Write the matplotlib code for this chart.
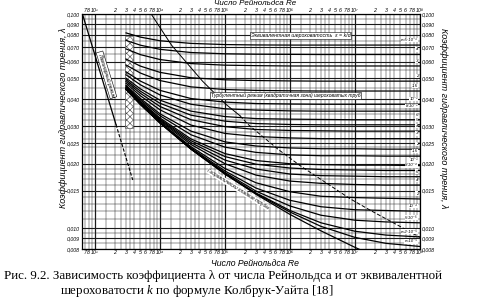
import matplotlib
matplotlib.use('Agg')
import matplotlib.pyplot as plt
from matplotlib.ticker import NullLocator

plt.rcParams['font.family'] = ['Liberation Sans', 'DejaVu Sans']
plt.rcParams['hatch.linewidth'] = 0.4
plt.rcParams['mathtext.fontset'] = 'custom'
plt.rcParams['mathtext.rm'] = 'Liberation Serif'
plt.rcParams['mathtext.it'] = 'Liberation Serif:italic'

re_pts = [3e3, 5e3, 1e4, 3e4, 1e5, 3e5, 1e6, 3e6, 1e7, 3e7, 1e8]

# relative roughness eps = k/d of each curve
roughness = [0.05, 0.04, 0.03, 0.02, 0.015, 0.01, 0.008, 0.006, 0.005, 0.004,
             0.003, 0.002, 0.0015, 0.001, 0.0008, 0.0006, 0.0004, 0.0002,
             0.0001, 0.00005, 0.00002, 0.00001, 0.0]

# friction factor lambda for each curve at re_pts
lam_table = [
    [0.0816, 0.0780, 0.0750, 0.0729, 0.0720, 0.0717, 0.0716, 0.0716, 0.0716, 0.0716, 0.0716],
    [0.0753, 0.0715, 0.0684, 0.0661, 0.0652, 0.0649, 0.0648, 0.0647, 0.0647, 0.0647, 0.0647],
    [0.0687, 0.0646, 0.0613, 0.0587, 0.0577, 0.0574, 0.0572, 0.0572, 0.0572, 0.0572, 0.0572],
    [0.0616, 0.0571, 0.0534, 0.0504, 0.0493, 0.0489, 0.0487, 0.0486, 0.0486, 0.0486, 0.0486],
    [0.0578, 0.0530, 0.0489, 0.0457, 0.0444, 0.0440, 0.0438, 0.0437, 0.0437, 0.0437, 0.0437],
    [0.0537, 0.0486, 0.0440, 0.0403, 0.0388, 0.0382, 0.0380, 0.0379, 0.0379, 0.0379, 0.0379],
    [0.0520, 0.0467, 0.0419, 0.0379, 0.0361, 0.0356, 0.0353, 0.0352, 0.0352, 0.0352, 0.0352],
    [0.0502, 0.0447, 0.0396, 0.0352, 0.0332, 0.0325, 0.0323, 0.0322, 0.0321, 0.0321, 0.0321],
    [0.0493, 0.0436, 0.0383, 0.0337, 0.0316, 0.0308, 0.0305, 0.0304, 0.0304, 0.0304, 0.0304],
    [0.0484, 0.0426, 0.0370, 0.0321, 0.0298, 0.0289, 0.0286, 0.0285, 0.0284, 0.0284, 0.0284],
    [0.0475, 0.0415, 0.0357, 0.0303, 0.0277, 0.0268, 0.0264, 0.0262, 0.0262, 0.0262, 0.0262],
    [0.0465, 0.0403, 0.0342, 0.0284, 0.0253, 0.0242, 0.0237, 0.0235, 0.0235, 0.0234, 0.0234],
    [0.0460, 0.0397, 0.0335, 0.0273, 0.0239, 0.0226, 0.0220, 0.0218, 0.0218, 0.0217, 0.0217],
    [0.0455, 0.0391, 0.0327, 0.0261, 0.0223, 0.0207, 0.0200, 0.0198, 0.0197, 0.0197, 0.0196],
    [0.0453, 0.0389, 0.0323, 0.0256, 0.0216, 0.0199, 0.0191, 0.0188, 0.0187, 0.0186, 0.0186],
    [0.0451, 0.0386, 0.0320, 0.0251, 0.0208, 0.0189, 0.0179, 0.0176, 0.0175, 0.0174, 0.0174],
    [0.0449, 0.0384, 0.0317, 0.0246, 0.0200, 0.0177, 0.0166, 0.0162, 0.0160, 0.0159, 0.0159],
    [0.0447, 0.0381, 0.0313, 0.0240, 0.0190, 0.0163, 0.0148, 0.0141, 0.0139, 0.0138, 0.0137],
    [0.0446, 0.0380, 0.0311, 0.0237, 0.0185, 0.0154, 0.0135, 0.0126, 0.0122, 0.0121, 0.0120],
    [0.0445, 0.0379, 0.0311, 0.0235, 0.0182, 0.0149, 0.0127, 0.0115, 0.0109, 0.0107, 0.0106],
    [0.0445, 0.0379, 0.0310, 0.0234, 0.0180, 0.0146, 0.0121, 0.0106, 0.00968, 0.00929, 0.00911],
    [0.0445, 0.0379, 0.0310, 0.0234, 0.0179, 0.0145, 0.0119, 0.0102, 0.00906, 0.00850, 0.00822],
    [0.0445, 0.0378, 0.0310, 0.0234, 0.0179, 0.0144, 0.0116, 0.00972, 0.00814, 0.00701, 0.00603],
]

curve_labels = ['ε=5·10⁻²', '4', '3', '2', '1,5', '10⁻²', '8·10⁻³', '6', '5', '4',
                '3', '2', '1,5', '10⁻³', '8·10⁻⁴', '6', '4', '2', '10⁻⁴', '5·10⁻⁵',
                'ε=2·10⁻⁵', 'ε=10⁻⁵', '']

# laminar flow line and its dashed continuation
laminar_re = [640, 2100]
laminar_lam = [0.100, 0.0305]
laminar_dash_re = [2100, 3800]
laminar_dash_lam = [0.0305, 0.0168]

# boundary of the quadratic (fully rough) zone
border_re = [7.3e3, 1.5e4, 4.5e4, 1.03e5, 1.7e5]
border_lam = [0.100, 0.0716, 0.0486, 0.0379, 0.0335]
border_dash_re = [1.7e5, 2.3e5, 6.5e5, 1.43e6, 8.5e6, 1.83e7, 3.9e7, 1.05e8]
border_dash_lam = [0.0335, 0.0304, 0.0234, 0.0196, 0.0137, 0.0120, 0.0106, 0.0090]

# transition zone (hatched strip)
trans_re = [2900, 3800]
trans_lam = [0.0295, 0.079]

lam_ticks = [0.100, 0.090, 0.080, 0.070, 0.060, 0.050, 0.040, 0.030, 0.025,
             0.020, 0.015, 0.010, 0.009, 0.008]
lam_tick_labels = ['0,100', '0,090', '0,080', '0,070', '0,060', '0,050', '0,040',
                   '0,030', '0,025', '0,020', '0,015', '0,010', '0,009', '0,008']
lam_grid = [0.095, 0.085, 0.075, 0.065, 0.055, 0.045, 0.038, 0.036, 0.034, 0.032,
            0.028, 0.026, 0.024, 0.022, 0.019, 0.018, 0.017, 0.016, 0.014, 0.013,
            0.012, 0.011, 0.0095, 0.0085]

decades = [1e3, 1e4, 1e5, 1e6, 1e7, 1e8]
decade_labels = ['10³', '10⁴', '10⁵', '10⁶', '10⁷', '10⁸']
tick_mult = [2, 3, 4, 5, 6, 7, 8]
grid_mult = [1.5, 2, 2.5, 3, 3.5, 4, 5, 6, 7, 8, 9]

fig = plt.figure(figsize=(4.81, 3.01), dpi=100)
ax = fig.add_axes([82 / 481, 1 - 249 / 301, 338 / 481, 235 / 301])
ax.set_xscale('log')
ax.set_yscale('log')
ax.set_xlim(630, 1e8)
ax.set_ylim(0.008, 0.1)

# grid
xt, xl = [700, 800], ['7', '8']
for d, dl in zip(decades, decade_labels):
    xt.append(d)
    xl.append(dl)
    if d < 1e8:
        for m in tick_mult:
            xt.append(m * d)
            xl.append(str(m))
for d in [100] + decades[:-1]:
    for m in grid_mult:
        if 630 < m * d < 1e8:
            ax.axvline(m * d, color='0.15', lw=0.35, zorder=1)
for d in decades:
    ax.axvline(d, color='0.1', lw=0.9, zorder=1)
for v in lam_grid:
    ax.axhline(v, color='0.15', lw=0.35, zorder=1)
for v in lam_ticks:
    ax.axhline(v, color='0.1', lw=0.8, zorder=1)

ax.set_xticks(xt)
ax.set_xticklabels(xl)
ax.set_yticks(lam_ticks)
ax.set_yticklabels(lam_tick_labels)
ax.xaxis.set_minor_locator(NullLocator())
ax.yaxis.set_minor_locator(NullLocator())
ax.tick_params(axis='both', length=0, labelsize=3.8, pad=1.5,
               right=True, labelright=True)
ax.tick_params(axis='x', top=True, labeltop=True, pad=0.8)
for lab in ax.get_xticklabels() + ax.get_yticklabels():
    lab.set_style('italic')
for s in ax.spines.values():
    s.set_linewidth(0.9)

# transition strip
ax.fill_betweenx(trans_lam, trans_re[0], trans_re[1], facecolor='white',
                 edgecolor='0.25', hatch='xxxxx', lw=0.4, zorder=2)

# curves
for lam, lab in zip(lam_table, curve_labels):
    ax.plot(re_pts, lam, color='black', lw=0.9, zorder=3)
    if lab:
        ax.text(9.3e7, lam[-1] * 1.035, lab, fontsize=3.2, style='italic',
                ha='right', va='bottom', zorder=5,
                bbox=dict(facecolor='white', edgecolor='none', pad=0.2))

ax.plot(laminar_re, laminar_lam, color='black', lw=0.9, zorder=3)
ax.plot(laminar_dash_re, laminar_dash_lam, color='black', lw=0.8,
        ls=(0, (3, 1.5)), zorder=3)
ax.plot(border_re, border_lam, color='black', lw=0.7, zorder=3)
ax.plot(border_dash_re, border_dash_lam, color='black', lw=0.7,
        ls=(0, (4, 2)), zorder=3)

# annotations
box = dict(facecolor='white', edgecolor='black', lw=0.4, pad=0.6)
ax.text(1500, 0.052, 'Ламинарный режим', fontsize=3.6, style='italic',
        rotation=-73, ha='center', va='center', zorder=6, bbox=box)
ax.text(8.5e6, 0.077, 'Эквивалентная шероховатость  ε = k/d', fontsize=3.8,
        style='italic', ha='right', va='bottom', zorder=6, bbox=box)
ax.text(8.5e5, 0.0417, 'Турбулентный режим (квадратичная зона) шероховатых труб',
        fontsize=3.6, style='italic', ha='center', va='center', zorder=6, bbox=box)
ax.text(1.6e5, 0.0152, 'Гидравлически гладкие трубы', fontsize=3.6,
        style='italic', rotation=-32, ha='center', va='center', zorder=6,
        bbox=dict(facecolor='white', edgecolor='none', pad=0.3))

# axis titles
fig.text(0.53, 1.0, 'Число Рейнольдса Re', fontsize=5.8, style='italic',
         ha='center', va='top')
fig.text(0.53, 0.126, 'Число Рейнольдса Re', fontsize=6.2, style='italic',
         ha='center', va='center')
fig.text(0.131, 0.608, 'Коэффициент гидравлического трения, λ', fontsize=6.5,
         style='italic', rotation=90, ha='center', va='center')
fig.text(0.922, 0.608, 'Коэффициент гидравлического трения, λ', fontsize=6.5,
         style='italic', rotation=270, ha='center', va='center')

# caption
fig.text(0.008, 0.083, 'Рис. 9.2. Зависимость коэффициента λ от числа Рейнольдса и от эквивалентной',
         fontsize=9.3, family=['Liberation Serif', 'DejaVu Serif'], ha='left', va='center')
fig.text(0.125, 0.033, r'шероховатости $k$ по формуле Колбрук-Уайта [18]',
         fontsize=9.3, family=['Liberation Serif', 'DejaVu Serif'], ha='left', va='center')

fig.savefig('out.png', dpi=100)
